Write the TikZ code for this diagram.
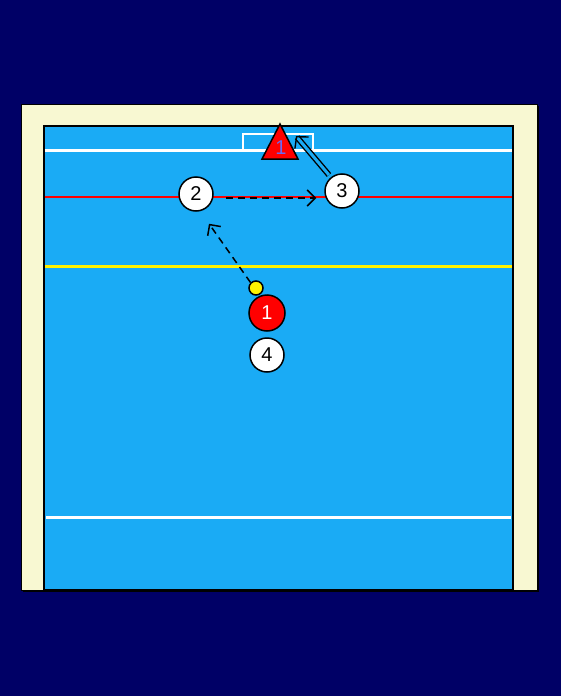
\documentclass[tikz,border=0pt]{standalone}
\usepackage{fontspec}
\setmainfont{Liberation Sans}
\usetikzlibrary{arrows.meta}
\definecolor{bg}{HTML}{000066}
\definecolor{cream}{HTML}{F8F8D2}
\definecolor{pool}{HTML}{1AABF5}
\definecolor{lbl}{HTML}{6A6AF0}
\tikzset{
  player/.style={circle,draw=black,line width=1.5pt,fill=white,minimum size=34pt,inner sep=0pt,font=\fontsize{20}{20}\selectfont},
  redplayer/.style={player,fill=red,text=white},
  pass/.style={dashed,dash pattern=on 7pt off 5pt,line width=1.5pt,-{Straight Barb[length=8pt,width=16pt,line width=1.5pt]}},
  swim/.style={draw=black,line width=1.4pt,double=pool,double distance=3pt,-{Straight Barb[length=8pt,width=18pt]}},
}
\begin{document}
\begin{tikzpicture}[x=1pt,y=-1pt]
\useasboundingbox (0,0) rectangle (560,696);
\fill[bg] (-2,-2) rectangle (562,698);
\fill[black] (23,106) rectangle (539,592);
\fill[cream,draw=black,line width=0.6pt] (21,104) rectangle (537,590);
\fill[pool,draw=black,line width=1.2pt] (44,126) rectangle (513,590);
\draw[white,line width=3pt] (44.6,150) -- (512.4,150);
\draw[red,line width=2.5pt] (44.6,197) -- (512.4,197);
\draw[yellow,line width=3pt] (44.6,266) -- (512.4,266);
\draw[white,line width=3pt] (46,517) -- (511,517);
\draw[white,line width=2.5pt] (243,150) -- (243,134) -- (313,134) -- (313,150);
\coordinate (ta) at (280,124);
\coordinate (tb) at (262,159);
\coordinate (tc) at (298,159);
\filldraw[fill=red,draw=black,line width=1.5pt] (ta) -- (tb) -- (tc) -- cycle;
\node[text=lbl,font=\fontsize{20}{20}\selectfont] (gk) at (281,148) {1};
\node[player] (p2) at (196,194) {2};
\node[player] (p3) at (342,191) {3};
\node[redplayer,minimum size=36pt] (p1) at (267,313) {1};
\node[player] (p4) at (267,355) {4};
\node[circle,draw=black,fill=yellow,line width=1.5pt,minimum size=14pt,inner sep=0pt] (ball) at (256,288) {};
\draw[pass] ([shift={(12pt,-4pt)}]p2.east) -- ([shift={(-8pt,-4pt)}]p2.east -| p3.west);
\draw[pass] (ball.north west) -- ([shift={(13pt,-12pt)}]p2.south);
\coordinate (s3) at (329,175);
\coordinate (e3) at (296,136);
\draw[swim] (s3) -- (e3);
\end{tikzpicture}
\end{document}
